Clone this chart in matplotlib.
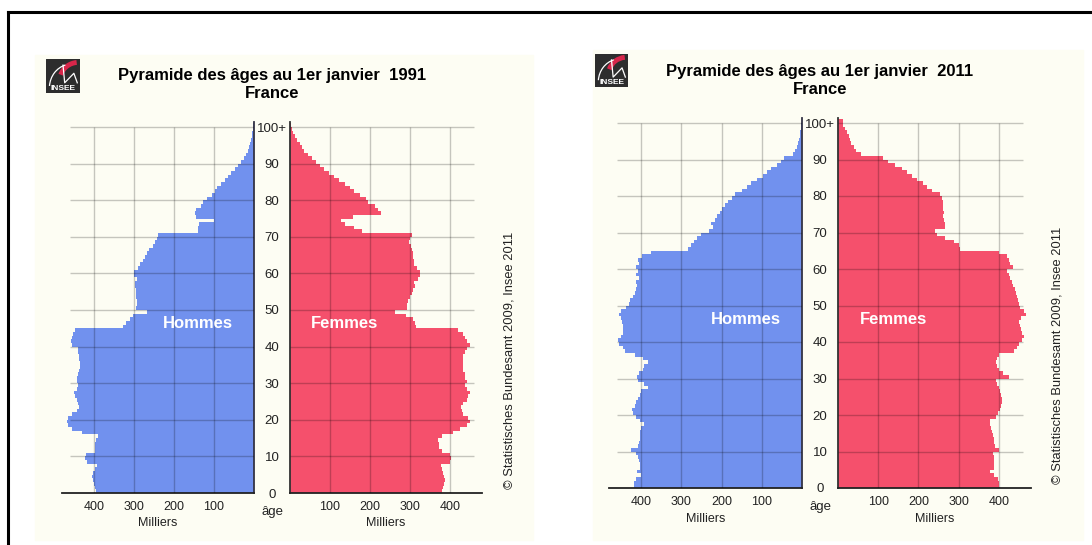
import matplotlib.pyplot as plt
from matplotlib.patches import Rectangle, Arc
from matplotlib.lines import Line2D

plt.rcParams['font.family'] = ['Liberation Sans', 'DejaVu Sans']

# ---------------------------------------------------------
# Data (thousands of people by single year of age, 0..100+)
# ---------------------------------------------------------
ages = list(range(101))
age_ticks = [0, 10, 20, 30, 40, 50, 60, 70, 80, 90, 100]
age_labels = ["0", "10", "20", "30", "40", "50", "60", "70", "80", "90", "100+"]
men_ticks = [400, 300, 200, 100]
women_ticks = [100, 200, 300, 400]

men_1991 = [396, 397, 399, 402, 406, 403, 397, 393, 418, 422,
            420, 398, 397, 397, 395, 390, 430, 456, 464, 468,
            464, 456, 443, 437, 439, 443, 447, 449, 443, 439,
            442, 443, 441, 437, 435, 435, 437, 437, 439, 441,
            456, 458, 456, 453, 447, 327, 321, 310, 302, 268,
            295, 293, 292, 295, 295, 295, 297, 297, 293, 299,
            300, 290, 285, 278, 272, 267, 262, 253, 247, 243,
            239, 140, 140, 138, 100, 145, 148, 146, 132, 128,
            118, 105, 98, 93, 82, 73, 65, 57, 48, 40,
            32, 25, 20, 15, 12, 9, 7, 5, 4, 3, 2]

women_1991 = [379, 382, 385, 387, 385, 382, 379, 377, 400, 403,
              400, 380, 373, 373, 371, 379, 407, 425, 442, 450,
              446, 433, 429, 427, 433, 442, 446, 450, 442, 437,
              442, 437, 437, 433, 433, 433, 432, 433, 437, 442,
              450, 442, 437, 433, 420, 316, 312, 308, 290, 262,
              292, 293, 296, 300, 304, 308, 312, 310, 321, 325,
              325, 317, 311, 311, 308, 307, 304, 302, 298, 300,
              304, 180, 160, 138, 128, 158, 228, 220, 212, 195,
              190, 175, 160, 150, 138, 122, 110, 98, 86, 76,
              66, 54, 44, 36, 30, 24, 18, 12, 8, 5, 3]

men_2011 = [418, 418, 414, 401, 411, 404, 404, 406, 408, 414,
            425, 408, 406, 404, 402, 402, 400, 392, 404, 414,
            421, 422, 416, 412, 408, 404, 401, 383, 393, 408,
            411, 406, 396, 392, 383, 396, 416, 439, 446, 456,
            458, 450, 446, 444, 446, 447, 450, 454, 450, 437,
            431, 427, 421, 416, 414, 411, 412, 406, 412, 408,
            412, 406, 408, 398, 375, 283, 275, 268, 262, 250,
            232, 222, 226, 217, 211, 204, 200, 192, 184, 175,
            167, 150, 138, 126, 113, 98, 86, 76, 63, 51,
            45, 22, 17, 13, 11, 8, 6, 4, 3, 2, 1]

women_2011 = [400, 400, 398, 389, 379, 388, 389, 389, 388, 386,
              400, 390, 389, 388, 386, 383, 381, 377, 377, 392,
              398, 402, 406, 408, 408, 406, 404, 400, 396, 392,
              425, 410, 400, 396, 392, 396, 400, 437, 446, 450,
              458, 462, 458, 456, 452, 450, 456, 467, 462, 452,
              450, 448, 444, 442, 439, 436, 433, 429, 425, 421,
              436, 428, 425, 421, 400, 303, 300, 288, 267, 246,
              242, 267, 267, 264, 262, 264, 261, 262, 262, 258,
              254, 233, 221, 211, 196, 183, 171, 158, 142, 125,
              112, 58, 46, 39, 33, 29, 27, 22, 17, 12, 12]

BLUE = "#7191ee"
RED = "#f5506c"
CREAM = "#fdfdf3"
W, H = 1092, 545

fig = plt.figure(figsize=(W / 100, H / 100), dpi=100)
fig.patch.set_facecolor("white")


def fx(x):
    return x / W


def fy(y):
    return 1 - y / H


def px_axes(x0, x1, y_top, y_bottom):
    return fig.add_axes([fx(x0), fy(y_bottom), (x1 - x0) / W, (y_bottom - y_top) / H])


# frame and cream panels
fig.add_artist(Line2D([fx(8), 1], [fy(12), fy(12)], color="black", lw=2.2))
fig.add_artist(Line2D([fx(8), fx(8)], [fy(12), 0], color="black", lw=2.2))
for x0, y0, x1, y1 in [(35, 55, 533, 540), (593, 50, 1083, 540)]:
    fig.add_artist(Rectangle((fx(x0), fy(y1)), (x1 - x0) / W, (y1 - y0) / H,
                             transform=fig.transFigure, color=CREAM, zorder=0))


def draw_logo(x0, y0, size):
    ax = px_axes(x0, x0 + size, y0, y0 + size)
    ax.set_xlim(0, 1)
    ax.set_ylim(0, 1)
    ax.axis("off")
    ax.add_patch(Rectangle((0, 0), 1, 1, color="#2d2d2d"))
    ax.add_patch(Arc((0.95, 0.35), 1.1, 1.1, theta1=95, theta2=160, color="#d8264a", lw=3.5))
    ax.add_patch(Arc((0.75, 0.15), 1.3, 1.4, theta1=105, theta2=175, color="white", lw=0.9, clip_on=False))
    ax.plot([0.5, 0.55, 0.82, 0.92], [0.82, 0.3, 0.58, 0.3], color="white", lw=0.9)
    ax.text(0.5, 0.14, "INSEE", color="white", fontsize=6, fontweight="bold",
            ha="center", va="center")


def pyramid(men, women, year, xm0, xm1, xw0, xw1, y0, py, title_y, copy_x):
    top = y0 - 101.3 * py
    axm = px_axes(xm0, xm1, top, y0)
    axw = px_axes(xw0, xw1, top, y0)
    for ax, vals, col in [(axm, men, BLUE), (axw, women, RED)]:
        ax.barh(ages, vals, height=1, align="edge", color=col, lw=0, zorder=2)
        ax.set_ylim(0, 101.3)
        ax.patch.set_visible(False)
        ax.vlines([100, 200, 300, 400], 0, 100, color="black", alpha=0.22, lw=1, zorder=3)
        ax.hlines(age_ticks[1:], 0, 460, color="black", alpha=0.22, lw=1, zorder=3)
        for s in ["top", "left", "right"]:
            ax.spines[s].set_visible(False)
        ax.spines["bottom"].set_color("#222222")
        ax.spines["bottom"].set_linewidth(1.3)
        ax.tick_params(axis="x", length=0, pad=6, labelsize=9, labelcolor="#222222")
        ax.set_xlabel("Milliers", fontsize=9, labelpad=3, color="#222222")
    axm.set_xlim(480, 0)
    axm.set_xticks(men_ticks)
    axm.set_yticks([])
    axm.spines["right"].set_visible(True)
    axm.spines["right"].set_color("#333344")
    axm.spines["right"].set_linewidth(1.3)
    axw.set_xlim(0, 480)
    axw.set_xticks(women_ticks)
    axw.spines["left"].set_visible(True)
    axw.spines["left"].set_color("#333333")
    axw.spines["left"].set_linewidth(1.3)
    axw.set_yticks(age_ticks, age_labels)
    axw.tick_params(axis="y", length=0, pad=13, labelsize=9.5, labelcolor="#222222")
    for lab in axw.get_yticklabels():
        lab.set_ha("center")

    axm.text(140, 46.2, "Hommes", color="white", fontsize=12, fontweight="bold",
             ha="center", va="center", zorder=4)
    axw.text(137, 46.2, "Femmes", color="white", fontsize=12, fontweight="bold",
             ha="center", va="center", zorder=4)

    cx = (xm1 + xw0) / 2
    fig.text(fx(cx), fy(y0 + 19), "âge", fontsize=9.5, ha="center", va="center", color="#222222")
    fig.text(fx(cx), fy(title_y), f"Pyramide des âges au 1er janvier  {year}",
             fontsize=12, fontweight="bold", ha="center", va="center")
    fig.text(fx(cx), fy(title_y + 18), "France", fontsize=12, fontweight="bold",
             ha="center", va="center")
    fig.text(fx(copy_x), fy(y0 - 133), "© Statistisches Bundesamt 2009, Insee 2011",
             fontsize=9.3, rotation=90, ha="center", va="center", color="#222222")


pyramid(men_1991, women_1991, 1991, 62, 254, 290, 482, 493, 3.66, 75, 510)
pyramid(men_2011, women_2011, 2011, 609, 802, 838, 1031, 488, 3.65, 71, 1058)
draw_logo(46, 59, 34)
draw_logo(595, 54, 33)

fig.savefig("out.png", dpi=100)
